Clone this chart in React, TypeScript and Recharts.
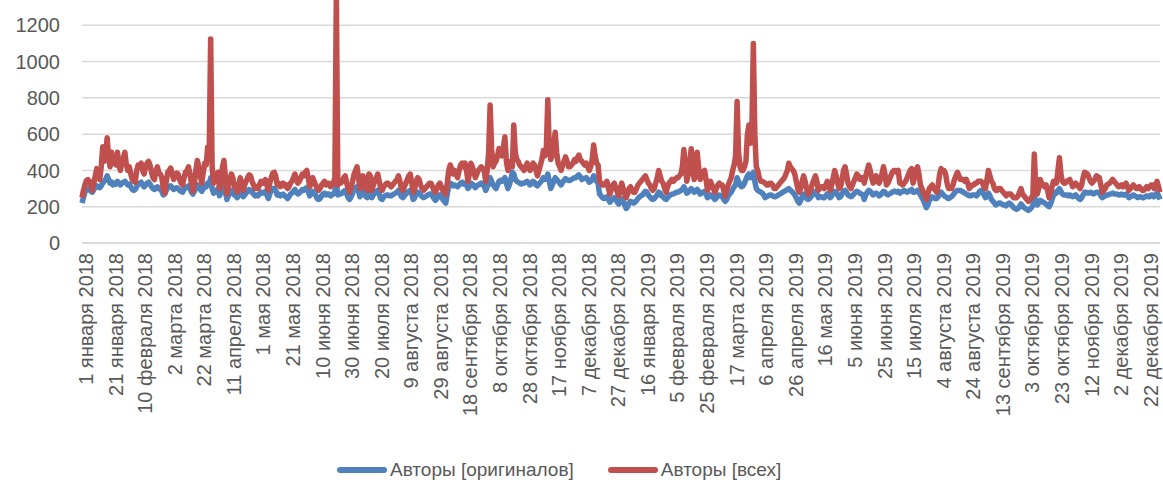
import React from 'react';
import { LineChart, Line, XAxis, YAxis, CartesianGrid } from 'recharts';

// Daily values, 1 Jan 2018 .. 31 Dec 2019, 10 days per row
const ORIGINALS = [
  220, 250, 280, 295, 300, 295, 285, 280, 295, 305,
  315, 310, 305, 315, 330, 340, 350, 370, 350, 330,
  335, 320, 330, 325, 340, 330, 320, 330, 335, 340,
  330, 320, 325, 310, 295, 290, 295, 310, 325, 330,
  335, 320, 310, 320, 330, 335, 325, 310, 300, 295,
  305, 310, 300, 295, 285, 265, 270, 290, 305, 310,
  315, 305, 295, 300, 305, 300, 290, 285, 280, 295,
  305, 310, 315, 300, 280, 270, 285, 305, 320, 310,
  295, 285, 300, 315, 310, 330, 320, 360, 300, 275,
  280, 290, 300, 260, 280, 300, 310, 280, 240, 260,
  275, 290, 285, 265, 260, 250, 265, 285, 275, 255,
  265, 275, 285, 295, 290, 280, 270, 260, 265, 260,
  270, 280, 275, 275, 285, 265, 245, 270, 290, 300,
  300, 290, 265, 270, 260, 265, 270, 260, 255, 245,
  255, 270, 275, 285, 295, 280, 270, 275, 285, 295,
  290, 300, 305, 285, 260, 270, 285, 275, 265, 245,
  240, 245, 260, 270, 275, 265, 270, 270, 260, 265,
  270, 285, 330, 265, 270, 270, 275, 285, 290, 270,
  250, 240, 255, 275, 295, 305, 310, 285, 255, 270,
  290, 280, 255, 250, 290, 285, 250, 265, 275, 285,
  290, 270, 245, 240, 255, 260, 265, 265, 260, 260,
  265, 270, 275, 280, 290, 275, 255, 250, 260, 270,
  280, 285, 290, 270, 240, 250, 270, 280, 275, 265,
  255, 250, 255, 260, 265, 270, 270, 260, 245, 235,
  245, 260, 265, 255, 240, 230, 220, 270, 310, 330,
  325, 315, 320, 315, 310, 320, 330, 335, 325, 330,
  320, 300, 310, 330, 325, 315, 305, 315, 320, 325,
  330, 320, 315, 290, 310, 330, 360, 340, 320, 310,
  300, 320, 340, 345, 340, 350, 360, 330, 300, 320,
  350, 390, 380, 350, 340, 335, 330, 325, 330, 330,
  335, 340, 330, 320, 330, 340, 335, 320, 315, 325,
  335, 345, 360, 350, 355, 380, 340, 300, 320, 340,
  360, 350, 340, 330, 320, 335, 345, 355, 350, 345,
  345, 350, 355, 360, 360, 370, 375, 365, 350, 355,
  355, 360, 350, 335, 340, 350, 370, 355, 340, 330,
  270, 260, 250, 245, 250, 255, 240, 225, 235, 245,
  250, 240, 225, 215, 230, 245, 230, 210, 190, 200,
  220, 230, 225, 220, 225, 235, 245, 255, 260, 265,
  275, 285, 280, 265, 255, 245, 240, 245, 255, 265,
  280, 275, 260, 255, 245, 240, 250, 260, 265, 270,
  270, 275, 280, 280, 285, 290, 295, 310, 295, 275,
  280, 290, 300, 290, 280, 285, 295, 285, 270, 275,
  280, 285, 270, 250, 255, 265, 260, 250, 240, 250,
  260, 265, 260, 255, 240, 230, 240, 260, 270, 280,
  295, 310, 320, 360, 340, 320, 310, 315, 330, 350,
  370, 380, 360, 370, 390, 340, 300, 290, 285, 280,
  275, 265, 250, 255, 260, 265, 265, 260, 255, 255,
  260, 265, 270, 275, 280, 285, 290, 295, 300, 290,
  285, 275, 265, 250, 230, 220, 235, 255, 270, 260,
  245, 240, 245, 255, 265, 275, 285, 270, 250, 255,
  255, 250, 250, 260, 270, 260, 250, 260, 275, 285,
  280, 265, 250, 255, 270, 285, 290, 280, 265, 260,
  255, 260, 270, 280, 285, 280, 275, 270, 265, 240,
  265, 280, 290, 285, 275, 265, 270, 275, 270, 260,
  265, 275, 285, 280, 270, 265, 270, 275, 280, 285,
  285, 280, 285, 275, 280, 285, 290, 285, 280, 285,
  290, 295, 280, 280, 285, 290, 280, 265, 250, 235,
  215, 195, 210, 235, 245, 255, 250, 245, 245, 255,
  270, 280, 270, 260, 255, 250, 245, 250, 255, 265,
  275, 285, 290, 290, 290, 285, 280, 275, 270, 265,
  260, 260, 265, 265, 265, 260, 270, 285, 290, 280,
  265, 250, 260, 275, 260, 240, 230, 220, 210, 215,
  220, 220, 215, 210, 210, 205, 215, 220, 215, 205,
  195, 190, 185, 190, 200, 215, 205, 195, 190, 185,
  180, 185, 195, 205, 260, 230, 210, 220, 235, 230,
  225, 220, 215, 205, 200, 215, 240, 265, 280, 275,
  290, 300, 285, 270, 265, 265, 265, 260, 265, 260,
  255, 260, 265, 255, 245, 240, 250, 265, 280, 280,
  275, 275, 280, 275, 270, 275, 280, 280, 275, 260,
  250, 255, 260, 265, 265, 270, 270, 275, 270, 270,
  270, 265, 265, 270, 265, 265, 270, 260, 250, 255,
  260, 265, 260, 255, 250, 255, 255, 250, 250, 255,
  260, 255, 255, 265, 265, 255, 265, 275, 260, 240,
];

const ALL = [
  250, 290, 320, 345, 350, 340, 320, 290, 330, 370,
  410, 360, 350, 420, 530, 450, 480, 580, 470, 420,
  500, 440, 460, 430, 500, 430, 400, 450, 470, 500,
  430, 400, 420, 380, 350, 340, 335, 400, 430, 420,
  440, 400, 380, 420, 440, 450, 430, 390, 360, 350,
  400, 420, 385, 380, 360, 300, 275, 340, 390, 400,
  413, 380, 350, 370, 385, 380, 350, 330, 320, 360,
  390, 400, 420, 380, 330, 285, 330, 400, 455, 420,
  370, 330, 390, 440, 430, 530, 480, 1125, 420, 330,
  340, 360, 390, 300, 350, 420, 455, 360, 270, 320,
  350, 380, 360, 310, 300, 280, 320, 360, 330, 290,
  320, 340, 360, 375, 370, 340, 320, 300, 310, 300,
  320, 340, 330, 330, 350, 320, 290, 330, 360, 385,
  390, 370, 320, 330, 310, 320, 330, 315, 320, 300,
  310, 330, 340, 360, 380, 350, 330, 340, 360, 380,
  370, 390, 400, 360, 310, 330, 360, 340, 320, 300,
  290, 300, 320, 330, 340, 320, 330, 330, 310, 320,
  330, 360, 1380, 320, 330, 330, 340, 360, 370, 330,
  300, 280, 310, 340, 380, 400, 420, 360, 300, 330,
  370, 350, 300, 290, 380, 370, 290, 320, 340, 360,
  380, 340, 300, 290, 310, 320, 330, 330, 320, 310,
  320, 330, 340, 350, 370, 340, 300, 290, 310, 330,
  350, 370, 380, 330, 280, 300, 340, 360, 350, 320,
  300, 290, 300, 310, 320, 330, 330, 310, 290, 280,
  300, 320, 330, 310, 290, 280, 270, 330, 400, 430,
  410, 380, 400, 380, 360, 400, 430, 440, 420, 440,
  400, 340, 380, 440, 420, 390, 360, 380, 400, 410,
  420, 410, 400, 340, 400, 500, 760, 520, 420, 440,
  450, 480, 520, 500, 480, 530, 585, 450, 400, 420,
  450, 420, 650, 500, 460, 450, 430, 420, 410, 400,
  420, 440, 420, 400, 420, 440, 430, 400, 370, 400,
  430, 460, 510, 480, 520, 790, 520, 460, 480, 540,
  610, 500, 440, 420, 400, 430, 450, 475, 450, 420,
  420, 430, 440, 460, 450, 470, 485, 460, 450, 440,
  430, 440, 420, 400, 420, 460, 540, 480, 440, 430,
  340, 330, 320, 320, 330, 340, 300, 270, 300, 320,
  330, 300, 280, 260, 300, 330, 300, 270, 250, 270,
  300, 310, 290, 280, 280, 300, 320, 330, 340, 350,
  360, 370, 350, 330, 320, 300, 290, 300, 330, 360,
  400, 370, 340, 330, 300, 280, 310, 330, 340, 350,
  340, 350, 360, 360, 370, 380, 420, 515, 430, 340,
  380, 450, 520, 400, 350, 400, 500, 420, 350, 370,
  390, 400, 350, 290, 310, 340, 320, 300, 280, 300,
  320, 330, 320, 320, 290, 260, 290, 320, 340, 360,
  400, 430, 480, 780, 500, 420, 400, 400, 420, 450,
  600, 650, 550, 620, 1100, 600, 420, 400, 360, 340,
  340, 335, 330, 320, 320, 330, 330, 320, 300, 300,
  310, 320, 330, 340, 350, 360, 380, 400, 440, 420,
  410, 400, 380, 340, 300, 280, 300, 340, 370, 340,
  300, 270, 280, 300, 330, 350, 370, 340, 290, 300,
  310, 310, 300, 320, 340, 320, 290, 320, 360, 400,
  370, 330, 300, 310, 350, 400, 420, 380, 330, 310,
  300, 320, 340, 360, 380, 370, 350, 360, 360, 330,
  370, 400, 430, 400, 360, 330, 340, 370, 350, 330,
  350, 380, 420, 380, 320, 330, 350, 370, 390, 400,
  400, 390, 400, 330, 330, 320, 330, 340, 360, 380,
  400, 410, 330, 360, 400, 420, 380, 320, 300, 280,
  260, 240, 270, 300, 310, 320, 300, 290, 280, 320,
  380, 410, 400, 400, 380, 330, 300, 300, 300, 320,
  350, 370, 390, 370, 350, 350, 350, 340, 350, 330,
  300, 310, 320, 320, 330, 330, 340, 340, 340, 330,
  310, 300, 350, 400, 370, 340, 330, 300, 290, 290,
  300, 300, 290, 280, 270, 260, 270, 270, 270, 260,
  250, 250, 250, 260, 280, 300, 270, 260, 250, 240,
  230, 240, 250, 260, 490, 300, 270, 300, 350, 330,
  320, 310, 320, 290, 250, 280, 310, 340, 330, 330,
  400, 470, 380, 340, 330, 330, 340, 345, 350, 330,
  310, 320, 330, 320, 310, 300, 320, 360, 390, 385,
  380, 360, 340, 330, 340, 350, 370, 365, 360, 320,
  280, 290, 300, 320, 325, 330, 340, 350, 340, 330,
  320, 310, 315, 320, 310, 320, 330, 310, 290, 300,
  310, 320, 310, 300, 300, 310, 300, 290, 290, 300,
  310, 300, 310, 320, 320, 300, 320, 340, 310, 280,
];

const MONTHS = ['января', 'февраля', 'марта', 'апреля', 'мая', 'июня', 'июля', 'августа', 'сентября', 'октября', 'ноября', 'декабря'];
const Y_TICKS = [0, 200, 400, 600, 800, 1000, 1200];

// category labels: one per day starting 1 Jan 2018
const DATES: string[] = [];
for (let i = 0; i < ALL.length; i++) {
  const d = new Date(Date.UTC(2018, 0, 1 + i));
  DATES.push(`${d.getUTCDate()} ${MONTHS[d.getUTCMonth()]} ${d.getUTCFullYear()}`);
}

const data = DATES.map((date, i) => ({ date, originals: ORIGINALS[i], all: ALL[i] }));

const FONT = '"Liberation Sans", Arial, sans-serif';
const GREY = '#595959';
const BLUE = '#4F81BD';
const RED = '#C0504D';

const DateTick = ({ x, y, payload }: any) => (
  <text
    x={x}
    y={y}
    transform={`rotate(-90, ${x}, ${y})`}
    textAnchor="end"
    dy="0.55em"
    fill={GREY}
    fontSize={20}
    fontFamily={FONT}
  >
    {payload.value}
  </text>
);

const LegendItem = ({ color, label }: { color: string; label: string }) => (
  <div style={{ display: 'flex', alignItems: 'center', marginRight: 34 }}>
    <div style={{ width: 50, height: 5.5, borderRadius: 3, background: color, marginRight: 3 }} />
    <span>{label}</span>
  </div>
);

export default function App() {
  return (
    <div style={{ position: 'absolute', left: 0, top: 0, width: 1163, height: 483, overflow: 'hidden', background: '#fff' }}>
      <div style={{ position: 'absolute', left: 0, top: -30 }}>
        <LineChart width={1163} height={513} data={data} margin={{ top: 19, right: 3, bottom: 0, left: 0 }}>
          <CartesianGrid vertical={false} stroke="#d9d9d9" strokeWidth={1.5} />
          <XAxis
            dataKey="date"
            interval={19}
            tickLine={false}
            tickSize={0}
            tickMargin={10}
            axisLine={{ stroke: '#d9d9d9', strokeWidth: 1.5 }}
            height={240}
            tick={<DateTick />}
          />
          <YAxis
            domain={[0, 1400]}
            ticks={Y_TICKS}
            width={82}
            axisLine={false}
            tickLine={false}
            tickSize={0}
            tickMargin={22}
            tick={{ fill: GREY, fontSize: 20, fontFamily: FONT }}
          />
          <Line type="linear" dataKey="originals" name="Авторы [оригиналов]" stroke={BLUE} strokeWidth={5.5} dot={false} strokeLinejoin="round" isAnimationActive={false} />
          <Line type="linear" dataKey="all" name="Авторы [всех]" stroke={RED} strokeWidth={5.5} dot={false} strokeLinejoin="round" isAnimationActive={false} />
        </LineChart>
      </div>
      <div style={{ position: 'absolute', left: 337, top: 459, display: 'flex', fontFamily: FONT, fontSize: 19, color: GREY }}>
        <LegendItem color={BLUE} label="Авторы [оригиналов]" />
        <LegendItem color={RED} label="Авторы [всех]" />
      </div>
    </div>
  );
}
